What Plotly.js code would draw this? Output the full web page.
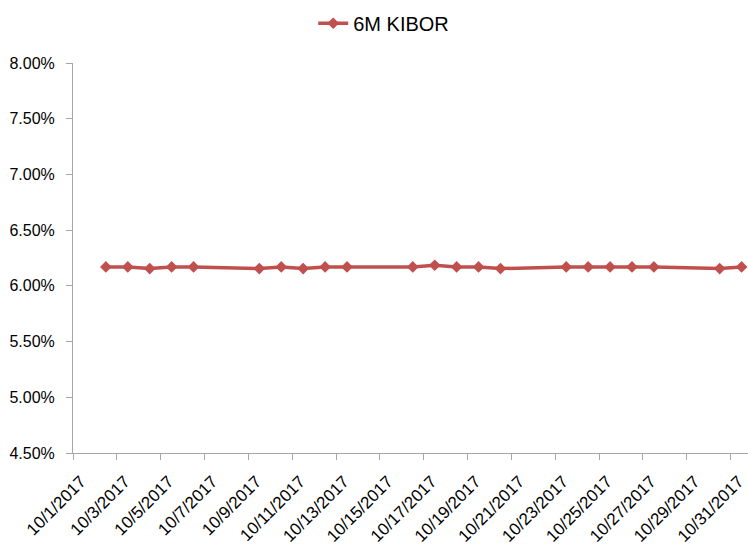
<!DOCTYPE html>
<html>
<head>
<meta charset="utf-8">
<script src="https://cdn.plot.ly/plotly-3.0.1.min.js"></script>
<style>html,body{margin:0;padding:0;background:#fff;}#chart{width:748px;height:554px;}</style>
</head>
<body>
<div id="chart"></div>
<script>
// Data (6M KIBOR, October 2017)
const seriesName = "6M KIBOR";
const dates = [
  "2017-10-02","2017-10-03","2017-10-04","2017-10-05","2017-10-06",
  "2017-10-09","2017-10-10","2017-10-11","2017-10-12","2017-10-13",
  "2017-10-16","2017-10-17","2017-10-18","2017-10-19","2017-10-20",
  "2017-10-23","2017-10-24","2017-10-25","2017-10-26","2017-10-27",
  "2017-10-30","2017-10-31"
];
const kibor = [
  6.17, 6.17, 6.155, 6.17, 6.17,
  6.155, 6.17, 6.155, 6.17, 6.17,
  6.17, 6.185, 6.17, 6.17, 6.155,
  6.17, 6.17, 6.17, 6.17, 6.17,
  6.155, 6.17
];
const yTickVals = [4.5, 5.0, 5.5, 6.0, 6.5, 7.0, 7.5, 8.0];
const yTickText = ["4.50%","5.00%","5.50%","6.00%","6.50%","7.00%","7.50%","8.00%"];

// Excel date axis: each day's point sits mid-way between its day boundaries
const xs = dates.map(d => d + " 12:00");

const trace = {
  x: xs,
  y: kibor,
  name: seriesName,
  type: "scatter",
  mode: "lines+markers",
  line: {color: "#C0504D", width: 3.5},
  marker: {symbol: "diamond", size: 9, color: "#C0504D"}
};

const axisColor = "#A6A6A6";
const layout = {
  width: 748,
  height: 554,
  margin: {l: 73, r: 0, t: 63, b: 101, pad: 0},
  paper_bgcolor: "#ffffff",
  plot_bgcolor: "#ffffff",
  showlegend: true,
  legend: {
    orientation: "h",
    xref: "container", yref: "container",
    x: 0.513, xanchor: "center",
    y: 0.958, yanchor: "middle",
    font: {family: "Liberation Sans Narrow, Arial Narrow, sans-serif", size: 20, color: "#000"},
    itemwidth: 30
  },
  xaxis: {
    type: "date",
    range: ["2017-10-01 00:00", "2017-10-31 19:00"],
    tick0: "2017-10-01",
    dtick: 2 * 86400000,
    tickformat: "%-m/%-d/%Y",
    tickangle: -45,
    ticks: "outside",
    ticklen: 6,
    tickcolor: axisColor,
    ticklabelstandoff: 5,
    ticklabelshift: 8,
    showline: true,
    linecolor: axisColor,
    linewidth: 1,
    showgrid: false,
    zeroline: false,
    tickfont: {family: "Liberation Sans, Arial, sans-serif", size: 17, color: "#000"},
    fixedrange: true
  },
  yaxis: {
    range: [4.5, 8.0],
    tickvals: yTickVals,
    ticktext: yTickText,
    ticks: "outside",
    ticklen: 6,
    tickcolor: axisColor,
    ticklabelstandoff: 8,
    showline: true,
    linecolor: axisColor,
    linewidth: 1,
    showgrid: false,
    zeroline: false,
    tickfont: {family: "Liberation Sans, Arial, sans-serif", size: 16, color: "#000"},
    fixedrange: true
  }
};

Plotly.newPlot("chart", [trace], layout, {displayModeBar: false, staticPlot: true});
</script>
</body>
</html>
